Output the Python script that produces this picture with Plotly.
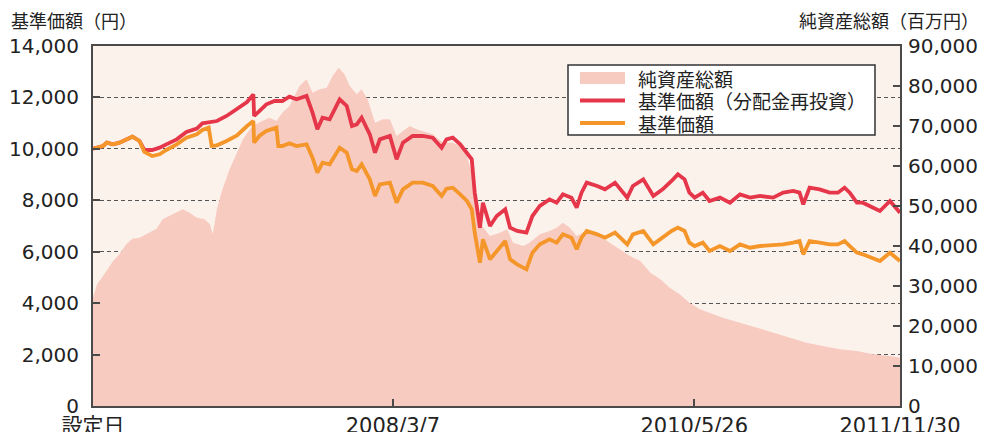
import plotly.graph_objects as go

# ---- data ----
nav_dates = [
    "2005-12-22", "2006-01-18", "2006-01-28", "2006-02-14", "2006-03-03", "2006-03-21", "2006-04-07", "2006-04-26",
    "2006-05-09", "2006-05-30", "2006-06-19", "2006-07-07", "2006-08-04", "2006-08-30", "2006-09-27", "2006-10-12",
    "2006-10-29", "2006-11-06", "2006-11-20", "2006-12-16", "2007-01-13", "2007-02-09", "2007-02-26", "2007-02-28",
    "2007-03-14", "2007-04-02", "2007-04-24", "2007-04-29", "2007-05-04", "2007-05-15", "2007-06-03", "2007-06-22",
    "2007-07-19", "2007-08-04", "2007-08-17", "2007-08-31", "2007-09-19", "2007-10-16", "2007-11-04", "2007-11-18",
    "2007-12-01", "2007-12-14", "2008-01-05", "2008-01-19", "2008-02-01", "2008-02-28", "2008-03-17", "2008-04-03",
    "2008-04-29", "2008-05-26", "2008-06-22", "2008-07-16", "2008-07-29", "2008-08-15", "2008-09-04", "2008-09-22",
    "2008-10-05", "2008-10-13", "2008-10-27", "2008-11-04", "2008-11-23", "2008-12-11", "2009-01-03", "2009-01-16",
    "2009-02-04", "2009-03-01", "2009-03-17", "2009-04-06", "2009-05-02", "2009-05-21", "2009-06-07", "2009-06-30",
    "2009-07-14", "2009-07-27", "2009-08-10", "2009-09-07", "2009-09-28", "2009-10-25", "2009-11-27", "2009-12-12",
    "2010-01-09", "2010-02-05", "2010-03-02", "2010-03-26", "2010-04-12", "2010-04-30", "2010-05-13", "2010-05-27",
    "2010-06-18", "2010-07-06", "2010-08-03", "2010-08-30", "2010-09-26", "2010-10-23", "2010-11-19", "2010-12-24",
    "2011-01-20", "2011-02-16", "2011-03-05", "2011-03-15", "2011-04-01", "2011-04-28", "2011-05-25", "2011-06-16",
    "2011-07-04", "2011-07-18", "2011-08-06", "2011-08-22", "2011-09-16", "2011-10-07", "2011-11-03", "2011-11-30",
]
nav_reinvest = [
    10010, 10111, 10241, 10176, 10241, 10370, 10474, 10306,
    9956, 9956, 10046, 10176, 10370, 10655, 10785, 10993,
    11031, 11057, 11083, 11278, 11537, 11822, 12120, 11278,
    11472, 11731, 11861, 11861, 11861, 11861, 12030, 11926,
    12056, 11407, 10759, 11213, 11148, 11926, 11667, 10889,
    10954, 11213, 10565, 9852, 10370, 10500, 9593, 10241,
    10500, 10500, 10435, 10046, 10370, 10435, 10176, 9852,
    9593, 8296, 6935, 7907, 7000, 7389, 7648, 6935,
    6806, 6741, 7389, 7778, 8037, 7907, 8231, 8102,
    7713, 8296, 8685, 8556, 8426, 8685, 8102, 8556,
    8815, 8167, 8426, 8750, 9009, 8815, 8296, 8102,
    8296, 7972, 8102, 7907, 8231, 8102, 8167, 8102,
    8296, 8361, 8296, 7843, 8491, 8426, 8296, 8296,
    8491, 8296, 7907, 7907, 7713, 7583, 7972, 7519,
]
nav = [
    10010, 10111, 10241, 10176, 10241, 10370, 10474, 10306,
    9878, 9722, 9787, 9956, 10176, 10435, 10565, 10733,
    10824, 10111, 10137, 10306, 10526, 10889, 11083, 10241,
    10500, 10694, 10824, 10824, 10111, 10111, 10215, 10111,
    10176, 9657, 9074, 9463, 9398, 10046, 9852, 9204,
    9139, 9398, 8815, 8167, 8620, 8685, 7907, 8426,
    8685, 8685, 8556, 8167, 8452, 8491, 8231, 7972,
    7648, 6741, 5574, 6481, 5704, 6028, 6417, 5704,
    5509, 5315, 5963, 6287, 6481, 6352, 6676, 6546,
    6093, 6546, 6806, 6676, 6546, 6741, 6287, 6676,
    6806, 6287, 6546, 6806, 6935, 6806, 6352, 6222,
    6352, 6028, 6222, 6028, 6287, 6157, 6222, 6248,
    6287, 6352, 6417, 5898, 6417, 6352, 6287, 6287,
    6417, 6222, 5963, 5898, 5769, 5639, 5963, 5639,
]

asset_dates = [
    "2005-12-22", "2006-01-02", "2006-01-18", "2006-02-01", "2006-02-14", "2006-03-03", "2006-03-21", "2006-04-07",
    "2006-04-26", "2006-05-14", "2006-06-11", "2006-06-27", "2006-07-23", "2006-08-20", "2006-09-08", "2006-09-27",
    "2006-10-18", "2006-11-01", "2006-11-09", "2006-11-20", "2006-12-05", "2006-12-24", "2007-01-13", "2007-01-29",
    "2007-02-17", "2007-03-05", "2007-03-22", "2007-04-10", "2007-04-29", "2007-05-15", "2007-06-03", "2007-06-30",
    "2007-07-19", "2007-08-04", "2007-08-23", "2007-09-11", "2007-09-27", "2007-10-13", "2007-10-29", "2007-11-12",
    "2007-12-01", "2007-12-14", "2007-12-30", "2008-01-19", "2008-02-09", "2008-02-28", "2008-03-17", "2008-04-03",
    "2008-04-21", "2008-05-10", "2008-05-26", "2008-06-22", "2008-07-19", "2008-08-15", "2008-09-04", "2008-09-22",
    "2008-10-05", "2008-10-19", "2008-11-02", "2008-11-15", "2008-11-23", "2008-12-20", "2009-01-08", "2009-01-24",
    "2009-02-21", "2009-03-09", "2009-04-06", "2009-05-02", "2009-05-21", "2009-06-07", "2009-06-26", "2009-07-14",
    "2009-07-30", "2009-08-18", "2009-09-15", "2009-10-11", "2009-11-08", "2009-12-04", "2010-01-01", "2010-01-28",
    "2010-02-24", "2010-03-21", "2010-04-17", "2010-05-13", "2010-06-10", "2010-07-06", "2010-08-11", "2010-09-26",
    "2010-11-11", "2010-12-24", "2011-02-08", "2011-03-24", "2011-05-06", "2011-06-21", "2011-08-06", "2011-09-19",
    "2011-11-03", "2011-11-30",
]
net_assets = [
    27083, 30417, 32500, 34583, 36250, 37917, 40417, 41833,
    42083, 42917, 44333, 46667, 47917, 49167, 48333, 47083,
    46667, 45417, 42917, 49167, 54167, 59167, 63333, 66667,
    69167, 70417, 71250, 72083, 71250, 73333, 75000, 80000,
    81667, 78333, 79167, 79583, 82500, 84583, 82917, 80000,
    77917, 79167, 76667, 70833, 71667, 71667, 67500, 68750,
    70000, 69167, 68750, 67917, 65833, 65833, 65000, 62500,
    58333, 52500, 45000, 43333, 42500, 43333, 44167, 40833,
    40000, 40833, 42917, 43750, 44583, 45833, 44583, 42500,
    43333, 43750, 42500, 40833, 39167, 37500, 36250, 33333,
    31667, 29583, 27917, 25833, 24167, 23333, 22083, 20833,
    19583, 18333, 17083, 15833, 15000, 14167, 13750, 12917,
    12500, 12083,
]

x_tickvals = ["2005-12-22", "2008-03-07", "2010-05-26", "2011-11-30"]
x_ticktext = ["設定日", "2008/3/7", "2010/5/26", "2011/11/30"]

name_assets = "純資産総額"
name_reinvest = "基準価額（分配金再投資）"
name_nav = "基準価額"
title_left = "基準価額（円）"
title_right = "純資産総額（百万円）"

FONT = "DejaVu Sans, Noto Sans CJK JP, sans-serif"
JFONT = "Noto Sans CJK JP, sans-serif"
AREA = "#F7CBC0"
RED = "#E5364A"
ORANGE = "#F5962A"
FRAME = "#4a4a4a"
TXT = "#222"

# plot-area geometry in pixels
W, H = 986, 432
L, R, T, B = 93, 86, 46, 26
PW, PH = W - L - R, H - T - B


def px(x):
    return (x - L) / PW


def py(y):
    return (H - B - y) / PH


fig = go.Figure()

# area on the primary (right-hand) axis, lines on the overlaid left axis
fig.add_trace(go.Scatter(
    x=asset_dates, y=net_assets, yaxis="y", mode="lines",
    line=dict(width=0, color=AREA), fill="tozeroy", fillcolor=AREA,
    showlegend=False, hoverinfo="skip", name=name_assets,
))
fig.add_trace(go.Scatter(
    x=nav_dates, y=nav_reinvest, yaxis="y2", mode="lines", name=name_reinvest,
    line=dict(width=3.8, color=RED), showlegend=False,
))
fig.add_trace(go.Scatter(
    x=nav_dates, y=nav, yaxis="y2", mode="lines", name=name_nav,
    line=dict(width=3.8, color=ORANGE), showlegend=False,
))

shapes = [
    # legend box
    dict(type="rect", xref="paper", yref="paper", x0=px(568), x1=px(875), y0=py(65), y1=py(135),
         fillcolor="white", line=dict(color="#333", width=1.5), layer="above"),
    dict(type="rect", xref="paper", yref="paper", x0=px(580), x1=px(625), y0=py(72), y1=py(84),
         fillcolor=AREA, line=dict(width=0), layer="above"),
    dict(type="line", xref="paper", yref="paper", x0=px(580), x1=px(625), y0=py(100.5), y1=py(100.5),
         line=dict(color=RED, width=4), layer="above"),
    dict(type="line", xref="paper", yref="paper", x0=px(580), x1=px(625), y0=py(123), y1=py(123),
         line=dict(color=ORANGE, width=4), layer="above"),
]

annotations = [
    dict(text=title_left, xref="paper", yref="paper", x=px(9), y=py(20),
         xanchor="left", yanchor="middle", align="left", showarrow=False,
         font=dict(family=JFONT, size=18, color=TXT)),
    dict(text=title_right, xref="paper", yref="paper", x=px(981), y=py(20),
         xanchor="right", yanchor="middle", align="right", showarrow=False,
         font=dict(family=JFONT, size=18, color=TXT)),
]
for label, yc in [(name_assets, 78), (name_reinvest, 100.5), (name_nav, 123)]:
    annotations.append(dict(
        text=label, xref="paper", yref="paper", x=px(637), y=py(yc),
        xanchor="left", yanchor="middle", align="left", showarrow=False,
        borderpad=0, font=dict(family=JFONT, size=19, color=TXT)))

fig.update_layout(
    width=W, height=H,
    margin=dict(l=L, r=R, t=T, b=B, autoexpand=False),
    paper_bgcolor="white",
    plot_bgcolor="#FCF2EC",
    font=dict(family=FONT, size=20, color=TXT),
    showlegend=False,
    xaxis=dict(
        type="date", automargin=False,
        range=["2005-12-22", "2011-11-30"],
        tickvals=x_tickvals, ticktext=x_ticktext,
        ticks="inside", ticklen=7, tickwidth=1.5, tickcolor=FRAME,
        showgrid=False, zeroline=False,
        showline=True, linecolor=FRAME, linewidth=2, mirror=True,
        ticklabelstandoff=0,
        tickfont=dict(family=FONT, size=21),
    ),
    yaxis=dict(
        automargin=False,
        range=[0, 90000], tickvals=list(range(0, 90001, 10000)), tickformat=",",
        side="right",
        ticks="inside", ticklen=7, tickwidth=1.5, tickcolor=FRAME,
        showgrid=False, zeroline=False,
        showline=True, linecolor=FRAME, linewidth=2,
        ticklabelstandoff=2,
        tickfont=dict(family=FONT, size=20),
    ),
    yaxis2=dict(
        automargin=False,
        range=[0, 14000], tickvals=list(range(0, 14001, 2000)), tickformat=",",
        side="left", overlaying="y",
        ticks="inside", ticklen=7, tickwidth=1.5, tickcolor=FRAME,
        showgrid=True, gridcolor="#555", gridwidth=1, griddash="4px,3px",
        zeroline=False,
        showline=True, linecolor=FRAME, linewidth=2,
        ticklabelstandoff=8,
        tickfont=dict(family=FONT, size=20),
    ),
    shapes=shapes,
    annotations=annotations,
)

fig.write_html(
    "out.html",
    config={"displayModeBar": False},
    post_script="document.body.style.margin='0';document.body.style.padding='0';",
)
